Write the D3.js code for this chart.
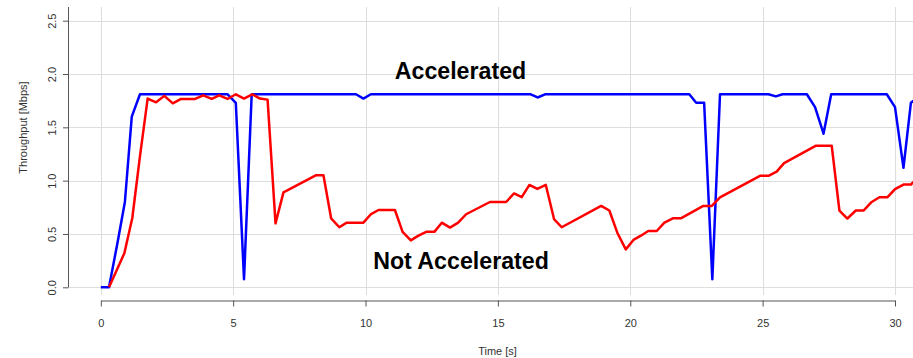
<!DOCTYPE html>
<html><head><meta charset="utf-8">
<script src="https://cdn.jsdelivr.net/npm/d3@7"></script>
<style>body{margin:0;background:#fff} text{font-family:"Liberation Sans",Arial,sans-serif}</style>
</head><body><svg id="c" width="913" height="358"></svg>
<script>
const accTime  = [0,0.31,0.64,0.91,1.17,1.48,4.79,5.10,5.41,5.70,9.64,9.92,10.2,16.24,16.5,16.78,22.23,22.49,22.79,23.1,23.39,25.22,25.5,25.75,26.67,26.98,27.3,27.59,29.69,30.0,30.32,30.6,30.7];
const accValue = [0,0,0.43,0.80,1.60,1.81,1.81,1.73,0.075,1.81,1.81,1.77,1.81,1.81,1.78,1.81,1.81,1.73,1.73,0.075,1.81,1.81,1.79,1.81,1.81,1.69,1.44,1.81,1.81,1.69,1.12,1.73,1.75];
const notTime  = [0.31,0.6,0.89,1.19,1.48,1.77,2.09,2.4,2.72,3.03,3.56,3.87,4.19,4.47,4.79,5.1,5.41,5.72,6.01,6.3,6.6,6.9,8.12,8.41,8.7,9.01,9.29,9.92,10.21,10.49,11.11,11.4,11.71,12.0,12.29,12.6,12.88,13.19,13.5,13.8,14.11,14.7,15.31,15.61,15.9,16.19,16.49,16.81,17.12,17.41,18.9,19.21,19.51,19.83,20.12,20.4,20.68,21.0,21.29,21.61,21.91,22.76,23.08,23.39,24.9,25.22,25.53,25.81,27.0,27.61,27.9,28.2,28.52,28.81,29.12,29.41,29.71,30.0,30.32,30.6,30.7];
const notValue = [0,0.16,0.32,0.65,1.23,1.77,1.735,1.795,1.725,1.766,1.766,1.80,1.766,1.80,1.766,1.81,1.77,1.81,1.77,1.76,0.60,0.89,1.05,1.05,0.647,0.563,0.606,0.606,0.687,0.725,0.725,0.52,0.44,0.484,0.52,0.52,0.606,0.56,0.606,0.685,0.725,0.80,0.80,0.88,0.845,0.96,0.922,0.96,0.64,0.563,0.763,0.72,0.512,0.356,0.444,0.484,0.528,0.528,0.606,0.647,0.647,0.763,0.763,0.844,1.045,1.045,1.085,1.165,1.327,1.327,0.72,0.645,0.72,0.72,0.80,0.844,0.844,0.92,0.963,0.963,0.99];
const xTicks = [0,5,10,15,20,25,30];
const yTicks = [0,0.5,1,1.5,2,2.5];
const yTickLabels = ["0.0","0.5","1.0","1.5","2.0","2.5"];
const seriesLabels = ["Accelerated","Not Accelerated"];
const xTitle = "Time [s]", yTitle = "Throughput [Mbps]";

const svg = d3.select("#c");
svg.append("rect").attr("width",913).attr("height",358).attr("fill","#fff");
const x = d3.scaleLinear().domain([0,30]).range([100.8,895]);
const y = d3.scaleLinear().domain([0,2.5]).range([287.3,20.7]);

// grid
const grid = svg.append("g").attr("stroke","#dedede").attr("stroke-width",1).attr("shape-rendering","crispEdges");
grid.selectAll(".h").data(yTicks).join("line").attr("x1",68.5).attr("x2",913)
  .attr("y1",d=>Math.round(y(d))+0.5).attr("y2",d=>Math.round(y(d))+0.5);
grid.selectAll(".v").data(xTicks).join("line").attr("y1",7).attr("y2",295)
  .attr("x1",d=>Math.round(x(d))+0.5).attr("x2",d=>Math.round(x(d))+0.5);

// y axis
const yAxis = svg.append("g").attr("transform","translate(68.5,0)")
  .call(d3.axisLeft(y).tickValues(yTicks).tickFormat((d,i)=>yTickLabels[i]).tickSize(5.5).tickSizeOuter(0));
yAxis.select(".domain").remove();
yAxis.append("line").attr("x1",0).attr("x2",0).attr("y1",y(0)).attr("y2",7).attr("stroke","#555");
yAxis.selectAll(".tick line").attr("stroke","#555");
yAxis.selectAll(".tick text").attr("transform","rotate(-90)").attr("x",0).attr("y",-13).attr("dy",0)
  .attr("text-anchor","middle").attr("fill","#333").style("font-size","11px").style("font-family","Liberation Sans, Arial, sans-serif");

// x axis
const xAxis = svg.append("g").attr("transform","translate(0,300.5)")
  .call(d3.axisBottom(x).tickValues(xTicks).tickSize(6).tickSizeOuter(0));
xAxis.select(".domain").attr("stroke","#555");
xAxis.selectAll(".tick line").attr("stroke","#555");
xAxis.selectAll(".tick text").attr("y",26.7).attr("dy",0).attr("fill","#333")
  .style("font-size","11px").style("font-family","Liberation Sans, Arial, sans-serif");

// titles
svg.append("text").attr("x",497.5).attr("y",354.5).attr("text-anchor","middle")
  .attr("fill","#333").style("font-size","11px").text(xTitle);
svg.append("text").attr("transform","translate(27,127.5) rotate(-90)").attr("text-anchor","middle")
  .attr("fill","#333").style("font-size","11px").text(yTitle);

// lines
const line = d3.line().x(d=>x(d[0])).y(d=>y(d[1]));
const acc = accTime.map((t,i)=>[t,accValue[i]]);
const nacc = notTime.map((t,i)=>[t,notValue[i]]);
svg.append("path").attr("d",line(acc)).attr("fill","none").attr("stroke","#0000ff").attr("stroke-width",2.5).attr("stroke-linejoin","round");
svg.append("path").attr("d",line(nacc)).attr("fill","none").attr("stroke","#ff0000").attr("stroke-width",2.5).attr("stroke-linejoin","round");

// labels
svg.append("text").attr("x",460.5).attr("y",79).attr("text-anchor","middle")
  .style("font-size","23.2px").style("font-weight","bold").attr("fill","#000").text(seriesLabels[0]);
svg.append("text").attr("x",461).attr("y",268.5).attr("text-anchor","middle")
  .style("font-size","23.2px").style("font-weight","bold").attr("fill","#000").text(seriesLabels[1]);
</script></body></html>
